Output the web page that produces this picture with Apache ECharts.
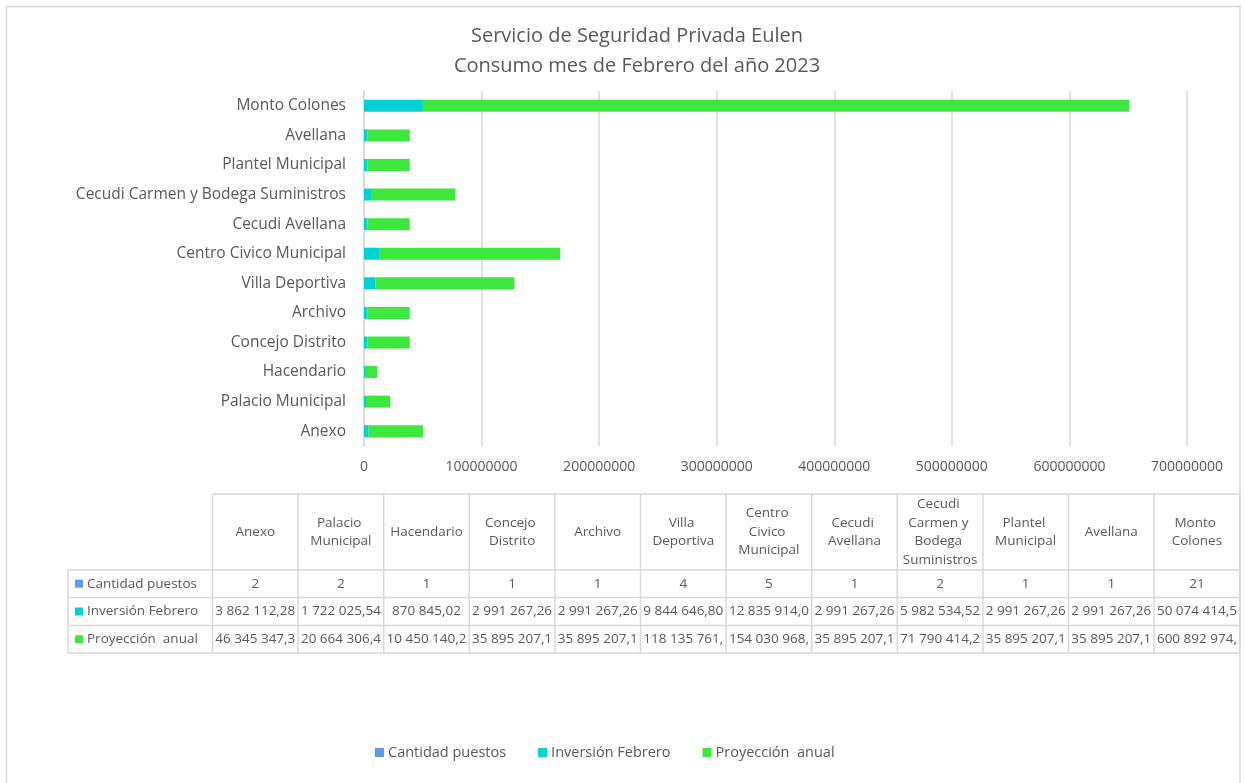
<!DOCTYPE html>
<html>
<head>
<meta charset="utf-8">
<script src="https://cdn.jsdelivr.net/npm/echarts@6/dist/echarts.min.js"></script>
<style>
  html, body { margin: 0; padding: 0; background: #fff; }
  #chart { width: 1245px; height: 783px; }
</style>
</head>
<body>
<div id="chart"></div>
<script>
  // datos
  const categorias = ['Anexo', 'Palacio Municipal', 'Hacendario', 'Concejo Distrito', 'Archivo', 'Villa Deportiva',
    'Centro Civico Municipal', 'Cecudi Avellana', 'Cecudi Carmen y Bodega Suministros', 'Plantel Municipal', 'Avellana', 'Monto Colones']
  const cantidadPuestos = [2, 2, 1, 1, 1, 4, 5, 1, 2, 1, 1, 21]
  const inversionFebrero = [3862112.28, 1722025.54, 870845.02, 2991267.26, 2991267.26, 9844646.80,
    12835914.06, 2991267.26, 5982534.52, 2991267.26, 2991267.26, 50074414.5]
  const proyeccionAnual = [46345347.36, 20664306.48, 10450140.24, 35895207.12, 35895207.12, 118135761.6,
    154030968.72, 35895207.12, 71790414.24, 35895207.12, 35895207.12, 600892974]
  const series = [
    { name: 'Cantidad puestos', data: cantidadPuestos, color: '#5b9bf8', dec: 0 },
    { name: 'Inversión Febrero', data: inversionFebrero, color: '#00d2d3', dec: 2 },
    { name: 'Proyección  anual', data: proyeccionAnual, color: '#3be83b', dec: 2 }
  ]

  const gris = '#595959'
  const linea = '#d9d9d9'
  const fuente = 'Open Sans'

  function fmt (v, dec) {
    let s = v.toFixed(dec).split('.')
    let ent = s[0].replace(/\B(?=(\d{3})+(?!\d))/g, ' ')
    return s.length > 1 ? ent + ',' + s[1] : ent
  }

  // tabla de datos bajo el grafico
  const tabla = { left: 212.5, labelLeft: 68, colW: 85.6, top: 494, head: 570, rows: [570, 597.5, 625.5, 653] }
  const tablaRight = tabla.left + tabla.colW * categorias.length
  let graphic = []
  graphic.push({
    type: 'rect', silent: true,
    shape: { x: 6.5, y: 6.5, width: 1233.5, height: 800 },
    style: { fill: 'none', stroke: linea, lineWidth: 1.5 }
  })
  graphic.push({
    type: 'line', silent: true,
    shape: { x1: tabla.left, y1: tabla.top, x2: tablaRight, y2: tabla.top },
    style: { stroke: linea, lineWidth: 1.5 }
  })
  tabla.rows.forEach((y) => {
    graphic.push({
      type: 'line', silent: true,
      shape: { x1: tabla.labelLeft, y1: y, x2: tablaRight, y2: y },
      style: { stroke: linea, lineWidth: 1.5 }
    })
  })
  graphic.push({
    type: 'line', silent: true,
    shape: { x1: tabla.labelLeft, y1: tabla.head, x2: tabla.labelLeft, y2: tabla.rows[3] },
    style: { stroke: linea, lineWidth: 1.5 }
  })
  for (let i = 0; i <= categorias.length; i++) {
    let x = tabla.left + i * tabla.colW
    graphic.push({
      type: 'line', silent: true,
      shape: { x1: x, y1: tabla.top, x2: x, y2: tabla.rows[3] },
      style: { stroke: linea, lineWidth: 1.5 }
    })
  }
  categorias.forEach((c, i) => {
    let cx = tabla.left + (i + 0.5) * tabla.colW
    graphic.push({
      type: 'text', silent: true,
      style: {
        text: c, x: cx, y: (tabla.top + tabla.head) / 2, align: 'center', verticalAlign: 'middle',
        width: 78, overflow: 'break', lineHeight: 18.5, fill: gris, font: '13.5px "Open Sans"'
      }
    })
  })
  series.forEach((s, r) => {
    let yc = (tabla.rows[r] + tabla.rows[r + 1]) / 2
    graphic.push({
      type: 'rect', silent: true,
      shape: { x: 75, y: yc - 4, width: 8, height: 8 },
      style: { fill: s.color }
    })
    graphic.push({
      type: 'text', silent: true,
      style: { text: s.name, x: 87, y: yc, align: 'left', verticalAlign: 'middle', fill: gris, font: '13.5px "Open Sans"' }
    })
    s.data.forEach((v, i) => {
      let cx = tabla.left + (i + 0.5) * tabla.colW
      graphic.push({
        type: 'text', silent: true,
        style: {
          text: fmt(v, s.dec), x: cx, y: yc, align: 'center', verticalAlign: 'middle',
          width: 84, overflow: 'truncate', ellipsis: '', fill: gris, font: '13.5px "Open Sans"'
        }
      })
    })
  })

  let myChart = echarts.init(document.getElementById('chart'))
  myChart.setOption({
    animation: false,
    textStyle: { fontFamily: fuente },
    title: {
      text: 'Servicio de Seguridad Privada Eulen\nConsumo mes de Febrero del año 2023',
      left: 637,
      top: 21,
      padding: 0,
      textAlign: 'center',
      textStyle: { color: gris, fontSize: 20, fontWeight: 'normal', lineHeight: 30, fontFamily: fuente }
    },
    legend: {
      left: 375,
      top: 745,
      padding: 0,
      itemWidth: 9,
      itemHeight: 9,
      itemGap: 32,
      icon: 'rect',
      textStyle: { color: gris, fontSize: 14.5, padding: [0, 0, 0, -1] },
      data: series.map((s) => s.name)
    },
    grid: { left: 364, right: 58, top: 91, bottom: 337, containLabel: false },
    xAxis: {
      type: 'value',
      min: 0,
      max: 700000000,
      interval: 100000000,
      axisLine: { show: false },
      axisTick: { show: false },
      splitLine: { lineStyle: { color: linea, width: 1.5 } },
      axisLabel: { color: gris, fontSize: 14, margin: 14, formatter: (v) => String(v) }
    },
    yAxis: {
      type: 'category',
      data: categorias,
      axisTick: { show: false },
      axisLine: { show: true, lineStyle: { color: linea, width: 1.5 } },
      axisLabel: { color: gris, fontSize: 15.5, margin: 18 }
    },
    series: series.map((s) => ({
      name: s.name,
      type: 'bar',
      stack: 'total',
      barWidth: 12,
      itemStyle: { color: s.color },
      data: s.data
    })),
    graphic: graphic
  })
</script>
</body>
</html>
